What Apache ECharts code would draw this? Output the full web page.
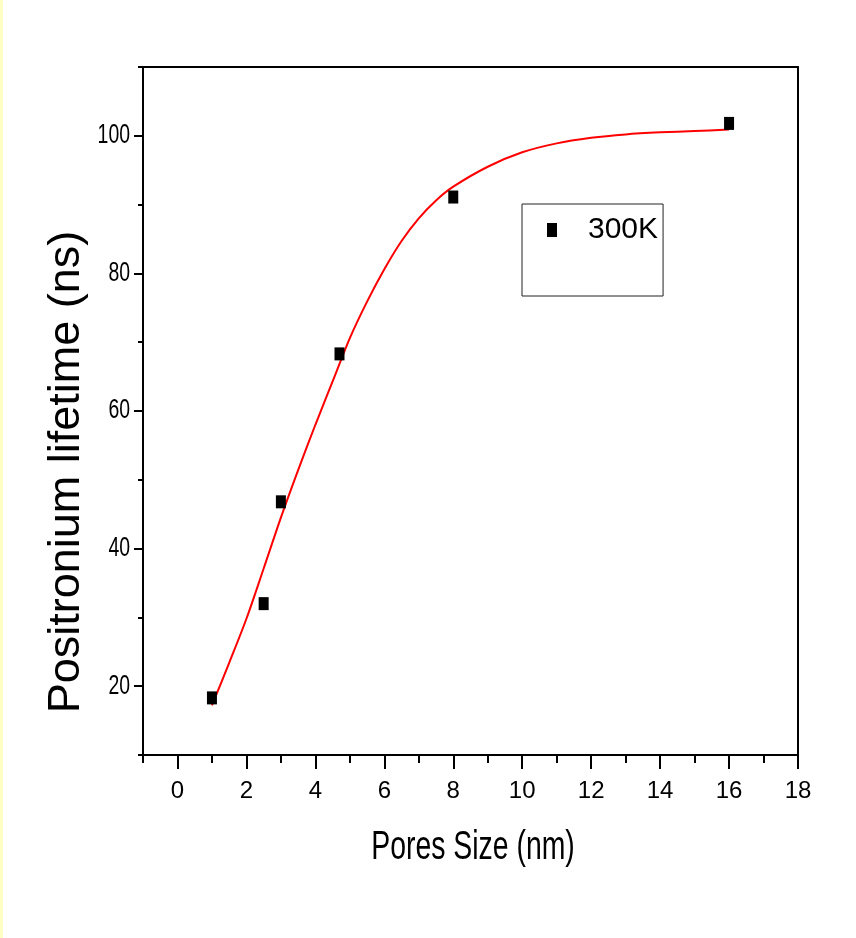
<!DOCTYPE html>
<html>
<head>
<meta charset="utf-8">
<script src="https://cdn.jsdelivr.net/npm/echarts@6/dist/echarts.min.js"></script>
<style>
html,body{margin:0;padding:0;background:#fff;}
#c{width:856px;height:938px;}
</style>
</head>
<body>
<div id="c"></div>
<script>
// Measured points (300K)
var poreSize = [1.0, 2.5, 3.0, 4.7, 8.0, 16.0];
var lifetime = [18.3, 32.0, 46.8, 68.3, 91.1, 101.8];

// Fit curve
var fitX = [1, 1.5, 2, 2.5, 3, 3.5, 4, 4.5, 5, 5.5, 6, 6.5, 7, 7.5, 8, 9, 10, 11, 12, 13, 14, 15, 16];
var fitY = [17.2, 23.4, 29.8, 37.1, 44.5, 51.4, 58.0, 64.3, 70.6, 75.9, 80.6, 84.7, 88.0, 90.6, 92.6, 95.5, 97.6, 98.9, 99.7, 100.2, 100.5, 100.7, 100.9];

// Tick labels
var xMajorTicks = [0, 2, 4, 6, 8, 10, 12, 14, 16, 18];
var xMinorTicks = [-1, 1, 3, 5, 7, 9, 11, 13, 15, 17];
var yMajorTicks = [20, 40, 60, 80, 100];
var yMinorTicks = [10, 30, 50, 70, 90, 110];

var seriesName = '300K';
var xTitle = 'Pores Size (nm)';
var yTitle = 'Positronium lifetime (ns)';

var pts = poreSize.map(function (x, i) { return [x, lifetime[i]]; });
var fit = fitX.map(function (x, i) { return [x, fitY[i]]; });

var FONT = 'Liberation Sans, Arial, sans-serif';
var axisLineStyle = { color: '#000', width: 2 };

var chart = echarts.init(document.getElementById('c'), null, { renderer: 'canvas' });
chart.setOption({
  backgroundColor: '#fff',
  animation: false,
  grid: { left: 143, top: 67, right: 58, bottom: 183, containLabel: false },
  xAxis: [
    {
      type: 'value', min: -1, max: 18, position: 'bottom',
      axisLine: { show: true, onZero: false, lineStyle: axisLineStyle },
      axisTick: { show: true, customValues: xMajorTicks, length: 14, lineStyle: { color: '#000', width: 2 } },
      axisLabel: { show: true, customValues: xMajorTicks, fontSize: 24, fontFamily: FONT, color: '#000', margin: 24 },
      splitLine: { show: false }
    },
    {
      type: 'value', min: -1, max: 18, position: 'bottom',
      axisLine: { show: false, onZero: false },
      axisTick: { show: true, customValues: xMinorTicks, length: 8, lineStyle: { color: '#000', width: 2 } },
      axisLabel: { show: false },
      splitLine: { show: false }
    },
    {
      type: 'value', min: -1, max: 18, position: 'top',
      axisLine: { show: true, onZero: false, lineStyle: axisLineStyle },
      axisTick: { show: false }, axisLabel: { show: false }, splitLine: { show: false }
    }
  ],
  yAxis: [
    {
      type: 'value', min: 10, max: 110, position: 'left',
      axisLine: { show: true, onZero: false, lineStyle: axisLineStyle },
      axisTick: { show: true, customValues: yMajorTicks, length: 9, lineStyle: { color: '#000', width: 2 } },
      axisLabel: { show: false },
      splitLine: { show: false }
    },
    {
      type: 'value', min: 10, max: 110, position: 'left',
      axisLine: { show: false, onZero: false },
      axisTick: { show: true, customValues: yMinorTicks, length: 5, lineStyle: { color: '#000', width: 2 } },
      axisLabel: { show: false },
      splitLine: { show: false }
    },
    {
      type: 'value', min: 10, max: 110, position: 'right',
      axisLine: { show: true, onZero: false, lineStyle: axisLineStyle },
      axisTick: { show: false }, axisLabel: { show: false }, splitLine: { show: false }
    }
  ],
  legend: {
    data: [{ name: seriesName, icon: 'rect', itemStyle: { color: '#000', opacity: 1 } }],
    left: 522, top: 204,
    padding: [8, 5, 48, 25],
    borderColor: '#222', borderWidth: 1,
    itemWidth: 10, itemHeight: 14,
    textStyle: { fontSize: 30, fontFamily: FONT, color: '#000', padding: [0, 0, 0, 26], lineHeight: 36 },
    selectedMode: false
  },
  series: [
    {
      name: 'fit', type: 'line', xAxisIndex: 0, yAxisIndex: 0,
      data: fit, smooth: 0.3, showSymbol: false, symbol: 'none',
      lineStyle: { color: '#ff0000', width: 2 }, z: 2
    },
    {
      name: seriesName, type: 'scatter', xAxisIndex: 0, yAxisIndex: 0,
      data: pts, symbol: 'rect', symbolSize: [10, 13],
      itemStyle: { color: '#000', opacity: 1 }, z: 3
    }
  ]
});

// Condensed y tick labels placed at the axis' own pixel positions
var gridLeft = chart.convertToPixel({ xAxisIndex: 0 }, -1);
var graphics = [
  { type: 'rect', left: 0, top: 0, shape: { width: 3, height: 938 }, style: { fill: '#ffffc4' }, silent: true },
  {
    type: 'text', x: 473, y: 848, scaleX: 0.71,
    style: { text: xTitle, font: '40px ' + FONT, fill: '#000', textAlign: 'center', textVerticalAlign: 'middle' }
  },
  {
    type: 'text', x: 67, y: 472, rotation: Math.PI / 2,
    style: { text: yTitle, font: '45px ' + FONT, fill: '#000', textAlign: 'center', textVerticalAlign: 'middle' }
  }
];
yMajorTicks.forEach(function (v) {
  graphics.push({
    type: 'text', x: gridLeft - 13, y: chart.convertToPixel({ yAxisIndex: 0 }, v), scaleX: 0.72,
    style: { text: String(v), font: '27px ' + FONT, fill: '#000', textAlign: 'right', textVerticalAlign: 'middle' }
  });
});
chart.setOption({ graphic: graphics });
</script>
</body>
</html>
